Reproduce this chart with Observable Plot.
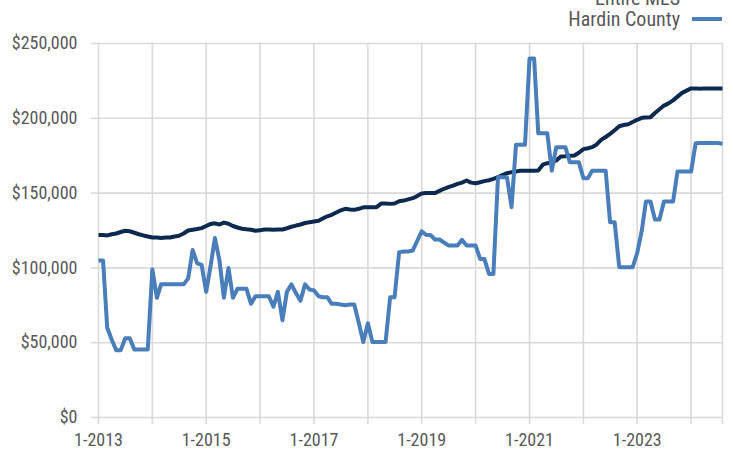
<!DOCTYPE html>
<html>
<head>
<meta charset="utf-8">
<script src="https://cdn.jsdelivr.net/npm/d3@7"></script>
<script src="https://cdn.jsdelivr.net/npm/@observablehq/plot@0.6"></script>
<style>
  html, body { margin: 0; padding: 0; background: #fff; }
  #wrap { position: relative; width: 733px; height: 451px; overflow: hidden; font-family: "Liberation Sans Narrow", "Arial Narrow", "Roboto Condensed", sans-serif; }
  #legend { position: absolute; right: 11px; top: -12.5px; color: #595959; font-size: 20px; }
  .row { display: flex; align-items: center; justify-content: flex-end; height: 21px; line-height: 21px; }
  .sw { width: 30px; height: 4px; margin-left: 12px; }
</style>
</head>
<body>
<div id="wrap"><div id="legend"></div></div>
<script>
// Series names and colors
const seriesNames = ["Entire MLS", "Hardin County"];
const seriesColors = ["#0c2a4e", "#4a7ebb"];

// Monthly from Jan 2013 to Aug 2024 (140 months)
const startMonth = "2013-01-01";
const endMonth = "2024-08-01";

// Entire MLS median price
const mlsValues = [
  122000,122000,121700,122500,123000,124000,124800,124500,123500,122500,
  121700,121000,120300,120300,120000,120300,120300,121000,121500,123000,
  125000,125500,126000,126600,128000,129400,129800,129000,130300,129500,
  128000,127000,126200,125800,125500,124800,125200,125600,125700,125500,
  125700,125700,126500,127500,128300,129000,130000,130500,131000,131500,
  133000,134500,135500,137000,138500,139500,139000,138800,139500,140500,
  140600,140600,140600,143000,143000,142800,143000,144500,145000,145800,
  146600,148000,149800,150000,150000,150000,151500,152900,154000,155000,
  156200,157000,158400,157000,156600,157300,158000,158600,159500,160600,
  162000,163300,164000,164400,165000,165000,165000,165000,165100,169000,
  170000,170500,171800,174500,174700,175000,175100,177000,179400,180000,
  180700,182500,185600,187500,189600,192000,194700,195500,196000,197500,
  199000,200300,200500,200700,203500,206000,208500,210000,212000,214500,
  217000,218500,220000,220000,219700,220000,220000,220000,220000,220000
];

// Hardin County median price
const hardinValues = [
  105000,105000,60000,52000,45000,45000,53000,53000,45500,45500,
  45500,45500,99000,80000,89000,89000,89000,89000,89000,89000,
  93000,112000,103000,102000,84000,102000,120000,105000,80000,100000,
  80000,86000,86000,86000,76000,81000,81000,81000,81000,74000,
  84000,65000,84000,89000,83000,78000,89000,85600,85000,81000,
  80400,80400,76000,76000,75500,75000,75500,75500,63000,50400,
  63000,50400,50400,50400,50400,80400,80400,110500,111000,111000,
  111600,118000,124500,122000,122000,119000,119000,117000,115000,115000,
  115000,118800,115000,115000,115000,106000,106000,96000,96000,160600,
  160600,160600,140600,182300,182300,182300,240000,240000,190000,190000,
  190000,165000,180700,180700,180700,170700,170700,170700,160000,160000,
  165000,165000,165000,165000,130500,130500,100500,100500,100500,100500,
  110000,125000,144400,144400,132400,132400,144400,144400,144400,164400,
  164400,164400,164400,183400,183500,183500,183500,183500,183500,183000
];

// Axis ticks
const yTicks = [0, 50000, 100000, 150000, 200000, 250000];
const gridYears = [2013,2014,2015,2016,2017,2018,2019,2020,2021,2022,2023,2024];
const labelYears = [2013, 2015, 2017, 2019, 2021, 2023];

const start = new Date(startMonth);
const end = new Date(endMonth);
const months = d3.utcMonth.range(start, d3.utcMonth.offset(end, 1));

const data = [];
months.forEach((d, i) => {
  data.push({date: d, value: mlsValues[i], series: seriesNames[0]});
});
months.forEach((d, i) => {
  data.push({date: d, value: hardinValues[i], series: seriesNames[1]});
});

const gridDates = gridYears.map(y => new Date(Date.UTC(y, 0, 1))).concat([end]);
const labelDates = labelYears.map(y => new Date(Date.UTC(y, 0, 1)));

const gridStyle = {stroke: "#d9d9d9", strokeOpacity: 1, strokeWidth: 1.6};

const chart = Plot.plot({
  width: 733,
  height: 451,
  marginLeft: 98,
  marginRight: 11,
  marginTop: 43,
  marginBottom: 34,
  style: {
    fontFamily: '"Liberation Sans Narrow", "Arial Narrow", "Roboto Condensed", sans-serif',
    fontSize: "18px",
    color: "#595959",
    background: "transparent",
    overflow: "visible"
  },
  x: {type: "utc", domain: [start, end]},
  y: {domain: [0, 250000]},
  color: {domain: seriesNames, range: seriesColors},
  marks: [
    Plot.gridY(yTicks, gridStyle),
    Plot.gridX(gridDates, gridStyle),
    Plot.axisY(yTicks, {tickFormat: d3.format("$,"), tickSize: 7, tickPadding: 14, stroke: "#d9d9d9", strokeWidth: 1.6, label: null}),
    Plot.axisX(gridDates, {tickSize: 7, tickFormat: () => "", stroke: "#d9d9d9", strokeWidth: 1.6, label: null}),
    Plot.axisX(labelDates, {tickSize: 0, tickPadding: 16, tickFormat: d => `1-${d.getUTCFullYear()}`, label: null}),
    Plot.lineY(data, {x: "date", y: "value", z: "series", stroke: "series", strokeWidth: 4, strokeLinejoin: "round", strokeLinecap: "butt"})
  ]
});

document.getElementById("wrap").appendChild(chart);

const legend = document.getElementById("legend");
seriesNames.forEach((name, i) => {
  const row = document.createElement("div");
  row.className = "row";
  const t = document.createElement("span");
  t.textContent = name;
  const sw = document.createElement("span");
  sw.className = "sw";
  sw.style.background = seriesColors[i];
  row.appendChild(t);
  row.appendChild(sw);
  legend.appendChild(row);
});
</script>
</body>
</html>
